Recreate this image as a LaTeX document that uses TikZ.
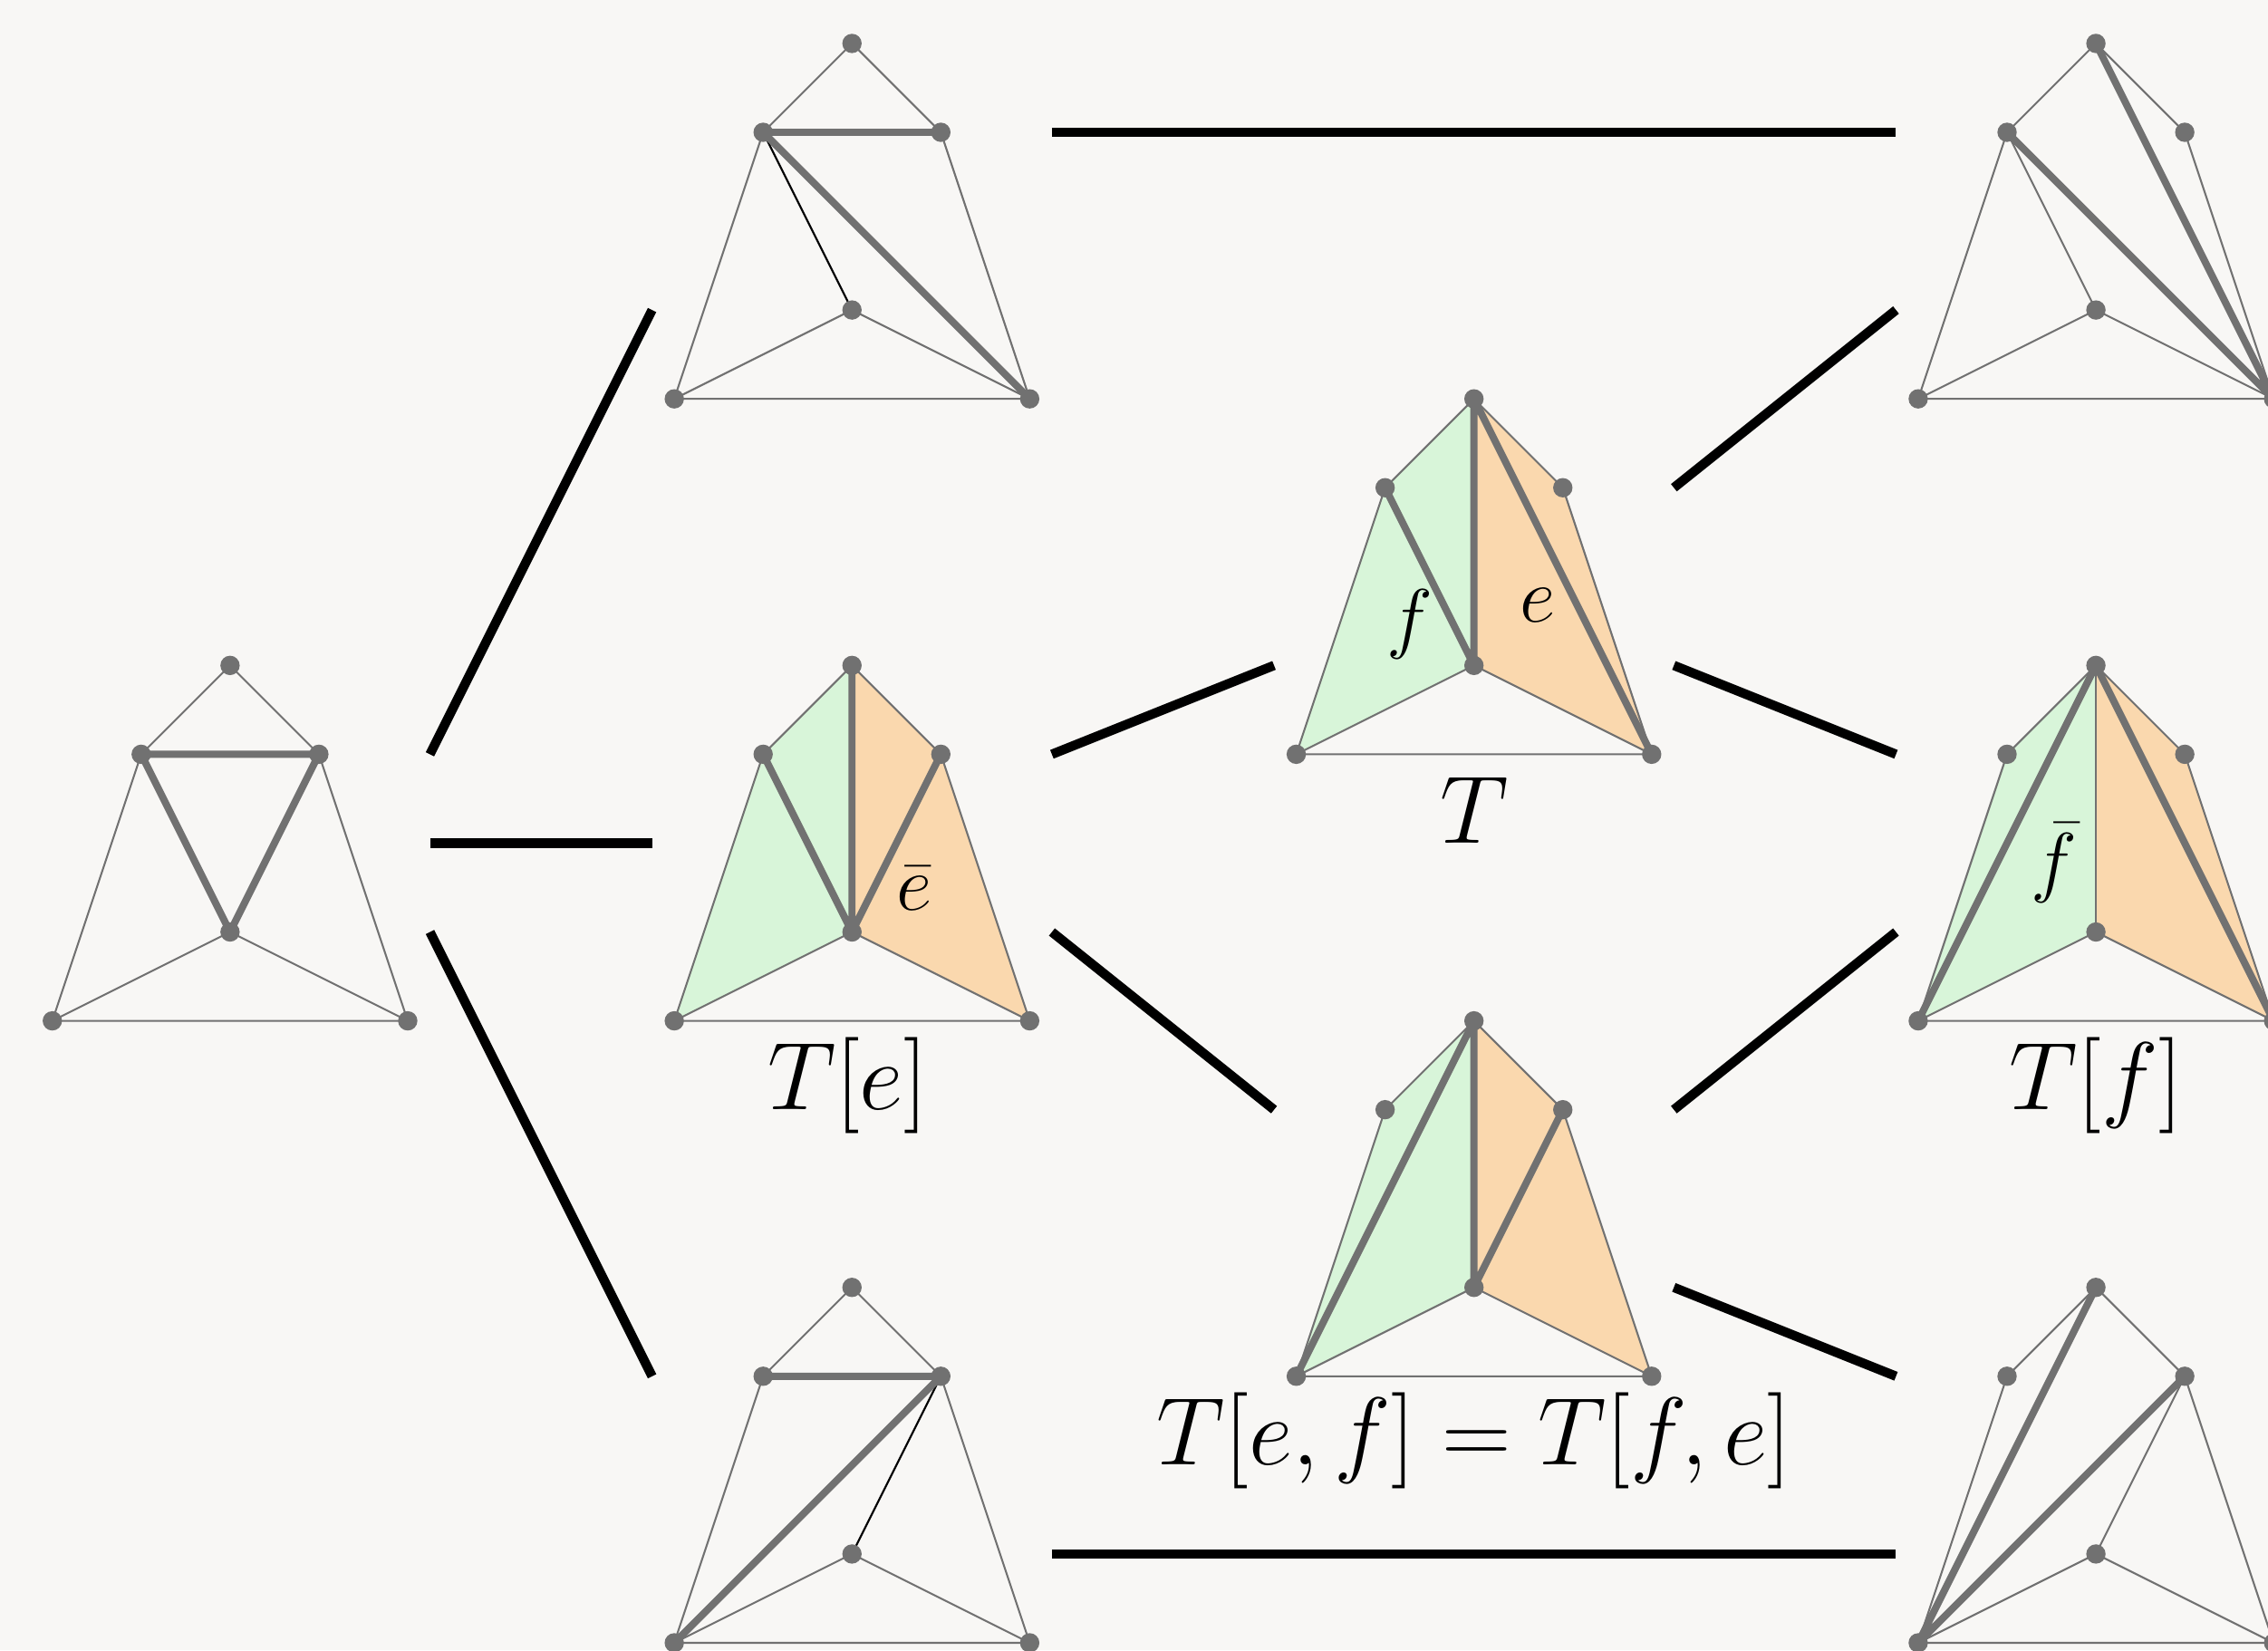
\documentclass[tikz,border=0pt]{standalone}
\usepackage{fix-cm}
\definecolor{bgc}{HTML}{F8F7F5}
\definecolor{vgray}{HTML}{717171}
\definecolor{gfill}{HTML}{D8F5D9}
\definecolor{ofill}{HTML}{FAD8AE}
% six vertices of one triangulation, apex at #2, plus connector ports
\newcommand{\mkverts}[2]{%
  \path (#2) coordinate (#1t) ++(-1,-1) coordinate (#1l) ++(2,0) coordinate (#1r)
    ++(-1,-2) coordinate (#1c) ++(-2,-1) coordinate (#1a) ++(4,0) coordinate (#1b);
  \path (#2) ++(2.25,-1) coordinate (#1e1) ++(0,-1) coordinate (#1e2) ++(0,-1) coordinate (#1e3);
  \path (#2) ++(-2.25,-1) coordinate (#1w1) ++(0,-1) coordinate (#1w2) ++(0,-1) coordinate (#1w3);}
\newcommand{\basegraph}[1]{%
  \draw[edge] (#1t)--(#1l)--(#1a)--(#1b)--(#1r)--cycle (#1a)--(#1c)--(#1b);}
\newcommand{\colorsplit}[1]{%
  \fill[gfill] (#1t)--(#1l)--(#1a)--(#1c)--cycle;
  \fill[ofill] (#1t)--(#1r)--(#1b)--(#1c)--cycle;}
\newcommand{\drawverts}[1]{\foreach \v in {t,l,r,c,a,b} \fill[vgray] (#1\v) circle (3.1pt);}
\begin{document}
\begin{tikzpicture}[line join=round,
	edge/.style={vgray, line width=0.6pt},
	heavy/.style={vgray, line width=2.3pt},
	dark/.style={black, line width=0.6pt},
	link/.style={black, line width=3pt},
	elab/.style={font=\fontsize{25}{30}\selectfont, inner sep=0pt},
	caplab/.style={font=\fontsize{30.8}{37}\selectfont, inner sep=0pt}]
	\path[use as bounding box, fill=bgc] (-2.589,-11.083) rectangle (22.937,7.489);
	% first column
	\mkverts{A}{0,0}
	\basegraph{A}
	\draw[heavy] (Al)--(Ar) (Al)--(Ac)--(Ar);
	\drawverts{A}
	% second column
	\mkverts{B}{7,7}
	\basegraph{B}
	\draw[dark] (Bl)--(Bc);
	\draw[heavy] (Bl)--(Br) (Bl)--(Bb);
	\drawverts{B}
	\mkverts{E}{7,0}
	\colorsplit{E}
	\basegraph{E}
	\draw[heavy] (Et)--(Ec) (El)--(Ec)--(Er);
	\drawverts{E}
	\node[elab, anchor=base] (Ebar) at ([shift={(0.70,-2.76)}]Et) {$\bar e$};
	\node[caplab, anchor=base] (Ecap) at ([shift={(-0.05,-5)}]Et) {$T[e]$};
	\mkverts{D}{7,-7}
	\basegraph{D}
	\draw[dark] (Dr)--(Dc);
	\draw[heavy] (Dl)--(Dr) (Dr)--(Da);
	\drawverts{D}
	% third column
	\mkverts{T}{14,3}
	\colorsplit{T}
	\basegraph{T}
	\draw[heavy] (Tt)--(Tc) (Tl)--(Tc) (Tt)--(Tb);
	\drawverts{T}
	\node[elab, anchor=base] (Tf) at ([shift={(-0.72,-2.76)}]Tt) {$f$};
	\node[elab, anchor=base] (Te) at ([shift={(0.72,-2.51)}]Tt) {$e$};
	\node[caplab, anchor=base] (Tcap) at ([shift={(0,-5)}]Tt) {$T$};
	\mkverts{P}{14,-4}
	\colorsplit{P}
	\basegraph{P}
	\draw[heavy] (Pt)--(Pa) (Pt)--(Pc) (Pr)--(Pc);
	\drawverts{P}
	\node[caplab, anchor=base] (Pcap) at ([shift={(0,-5)}]Pt) {$T[e,f]=T[f,e]$};
	% fourth column
	\mkverts{H}{21,7}
	\basegraph{H}
	\draw[edge] (Hl)--(Hc);
	\draw[heavy] (Hl)--(Hb) (Ht)--(Hb);
	\drawverts{H}
	\mkverts{F}{21,0}
	\colorsplit{F}
	\basegraph{F}
	\draw[edge] (Ft)--(Fc);
	\draw[heavy] (Ft)--(Fa) (Ft)--(Fb);
	\drawverts{F}
	\node[elab, anchor=base] (Fbar) at ([shift={(-0.47,-2.50)}]Ft) {$\bar f$};
	\node[caplab, anchor=base] (Fcap) at ([shift={(0,-5)}]Ft) {$T[f]$};
	\mkverts{K}{21,-7}
	\basegraph{K}
	\draw[edge] (Kr)--(Kc);
	\draw[heavy] (Kt)--(Ka) (Kr)--(Ka);
	\drawverts{K}
	% flips
	\draw[link] (Ae1)--(Bw3);
	\draw[link] (Ae2)--(Ew2);
	\draw[link] (Ae3)--(Dw1);
	\draw[link] (Be1)--(Hw1);
	\draw[link] (Ee1)--(Tw3);
	\draw[link] (Ee3)--(Pw1);
	\draw[link] (De3)--(Kw3);
	\draw[link] (Te1)--(Hw3);
	\draw[link] (Te3)--(Fw1);
	\draw[link] (Pe1)--(Fw3);
	\draw[link] (Pe3)--(Kw1);
\end{tikzpicture}
\end{document}
